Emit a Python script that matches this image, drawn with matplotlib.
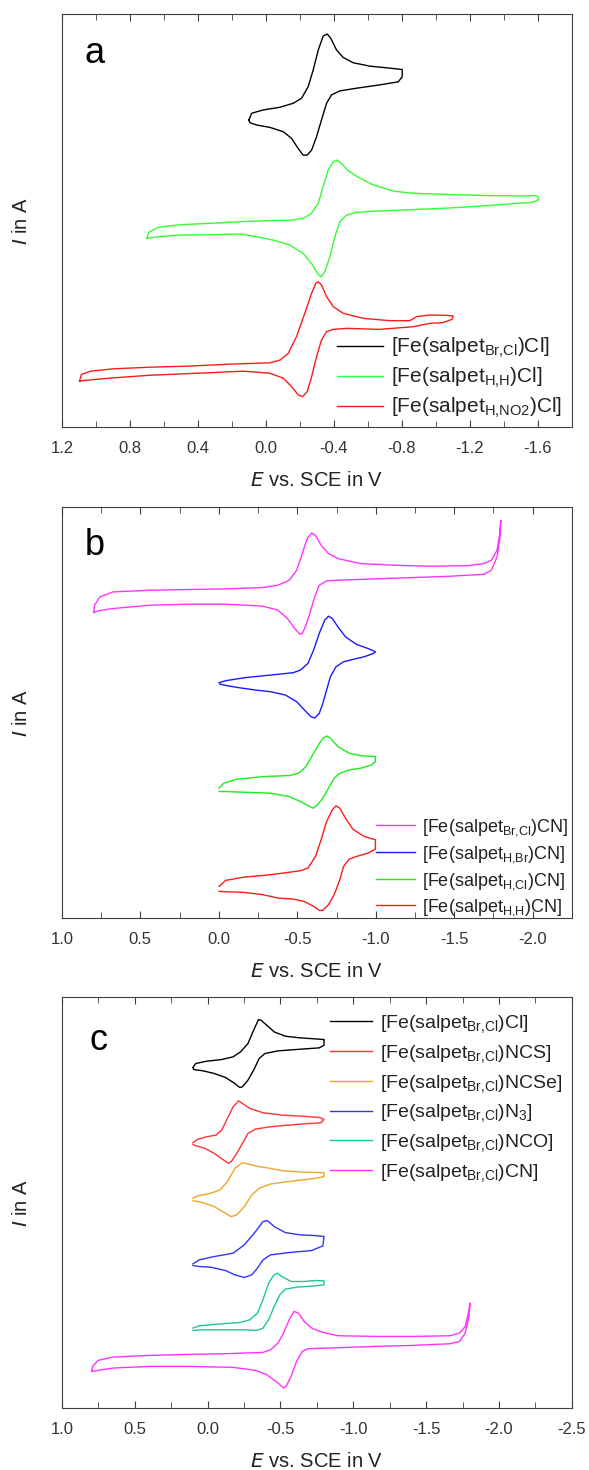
import matplotlib
matplotlib.use("Agg")
from matplotlib import pyplot as plt
from matplotlib.ticker import MultipleLocator

plt.rcParams["font.family"] = ["Liberation Sans", "DejaVu Sans"]
plt.rcParams["mathtext.default"] = "regular"
plt.rcParams["axes.unicode_minus"] = False

# ---- panel a: currents in arbitrary units, potentials in V vs. SCE ----
a_brcl_E = [0.100, 0.084, 0.016, -0.082, -0.161, -0.210, -0.249, -0.278, -0.308, -0.337, -0.361, -0.382,
            -0.416, -0.455, -0.514, -0.612, -0.710, -0.802,
            -0.802, -0.778, -0.670, -0.533, -0.435, -0.386, -0.357, -0.327, -0.298, -0.269, -0.243, -0.219,
            -0.190, -0.151, -0.102, -0.023, 0.055, 0.094, 0.100]
a_brcl_I = [9.18, 9.38, 9.48, 9.56, 9.68, 9.83, 10.18, 10.67, 11.27, 11.69, 11.75, 11.62,
            11.27, 11.05, 10.89, 10.79, 10.74, 10.69,
            10.47, 10.32, 10.23, 10.13, 10.05, 9.93, 9.68, 9.18, 8.68, 8.28, 8.13, 8.13,
            8.33, 8.63, 8.83, 8.96, 9.03, 9.10, 9.18]

a_hh_E = [0.700, 0.689, 0.634, 0.502, 0.326, 0.153, -0.004, -0.161, -0.219, -0.269, -0.308, -0.337, -0.366,
          -0.396, -0.419, -0.445, -0.484, -0.553, -0.631, -0.754, -0.864, -1.084, -1.304, -1.525, -1.591, -1.602,
          -1.602, -1.569, -1.304, -1.084, -0.864, -0.670, -0.533, -0.475, -0.435, -0.406, -0.376, -0.347,
          -0.323, -0.302, -0.269, -0.219, -0.141, -0.043, 0.075, 0.153, 0.326, 0.502, 0.634, 0.700]
a_hh_I = [5.65, 5.82, 5.97, 6.05, 6.09, 6.14, 6.17, 6.19, 6.24, 6.39, 6.69, 7.19, 7.68,
          7.93, 7.98, 7.88, 7.66, 7.44, 7.24, 7.05, 6.99, 6.95, 6.92, 6.91, 6.92, 6.87,
          6.79, 6.72, 6.62, 6.55, 6.50, 6.46, 6.42, 6.34, 6.14, 5.69, 5.09, 4.64,
          4.49, 4.60, 4.89, 5.19, 5.44, 5.59, 5.71, 5.77, 5.75, 5.74, 5.69, 5.64]

a_hno2_E = [1.096, 1.085, 1.030, 0.898, 0.678, 0.458, 0.212, -0.023, -0.082, -0.131, -0.180, -0.229, -0.269,
            -0.294, -0.308, -0.327, -0.357, -0.396, -0.455, -0.572, -0.729, -0.847, -0.886, -0.965, -1.062,
            -1.102,
            -1.095, -1.040, -0.965, -0.867, -0.670, -0.475, -0.396, -0.357, -0.327, -0.298, -0.269, -0.243,
            -0.216, -0.190, -0.151, -0.102, -0.023, 0.133, 0.348, 0.678, 0.898, 1.074, 1.096]
a_hno2_I = [1.37, 1.57, 1.67, 1.74, 1.79, 1.82, 1.88, 1.92, 2.00, 2.20, 2.70, 3.40, 4.00,
            4.30, 4.34, 4.25, 3.90, 3.60, 3.40, 3.25, 3.18, 3.18, 3.30, 3.35, 3.34,
            3.32,
            3.22, 3.12, 3.10, 3.00, 2.92, 2.95, 2.92, 2.85, 2.60, 2.10, 1.50, 1.06,
            0.91, 0.96, 1.21, 1.46, 1.61, 1.67, 1.62, 1.55, 1.47, 1.39, 1.37]

# ---- panel b ----
b_brcl_E = [0.797, 0.792, 0.757, 0.673, 0.434, 0.196, -0.043, -0.282, -0.377, -0.449, -0.496, -0.532, -0.563,
            -0.592, -0.616, -0.652, -0.699, -0.759, -0.902, -1.117, -1.356, -1.594, -1.690, -1.737, -1.773,
            -1.790, -1.797,
            -1.792, -1.773, -1.737, -1.690, -1.475, -1.236, -0.998, -0.759, -0.687, -0.640, -0.611, -0.580,
            -0.556, -0.532, -0.516, -0.484, -0.437, -0.377, -0.282, -0.043, 0.196, 0.434, 0.673, 0.768, 0.797]
b_brcl_I = [9.20, 9.40, 9.65, 9.80, 9.85, 9.87, 9.89, 9.93, 10.00, 10.15, 10.45, 10.95, 11.40,
            11.57, 11.50, 11.20, 10.95, 10.80, 10.65, 10.60, 10.57, 10.59, 10.65, 10.75, 11.05,
            11.55, 11.95,
            11.45, 10.85, 10.45, 10.33, 10.27, 10.23, 10.19, 10.15, 10.13, 10.00, 9.65, 9.15,
            8.80, 8.55, 8.53, 8.70, 9.00, 9.25, 9.37, 9.43, 9.43, 9.40, 9.30, 9.23, 9.18]

b_hbr_E = [-0.002, -0.043, -0.162, -0.329, -0.473, -0.520, -0.568, -0.604, -0.640, -0.675, -0.699, -0.723,
           -0.759, -0.807, -0.878, -0.950, -0.998,
           -0.986, -0.926, -0.854, -0.795, -0.747, -0.711, -0.687, -0.663, -0.640, -0.611, -0.587, -0.556,
           -0.496, -0.425, -0.329, -0.234, -0.115, -0.043, -0.007]
b_hbr_I = [7.07, 7.13, 7.22, 7.30, 7.37, 7.45, 7.65, 8.05, 8.55, 8.95, 9.07, 9.00,
           8.75, 8.45, 8.22, 8.10, 8.00,
           7.95, 7.85, 7.77, 7.70, 7.55, 7.25, 6.85, 6.45, 6.15, 6.01, 6.05, 6.20,
           6.50, 6.70, 6.80, 6.85, 6.93, 6.99, 7.03]

b_hcl_E = [-0.002, -0.031, -0.115, -0.282, -0.449, -0.508, -0.556, -0.592, -0.628, -0.663, -0.687, -0.711,
           -0.759, -0.831, -0.902, -0.998,
           -0.998, -0.974, -0.902, -0.831, -0.771, -0.735, -0.699, -0.663, -0.628, -0.604, -0.580, -0.520,
           -0.449, -0.329, -0.162, -0.043, -0.002]
b_hcl_I = [3.90, 4.05, 4.17, 4.25, 4.28, 4.35, 4.55, 4.85, 5.15, 5.40, 5.47, 5.40,
           5.15, 4.95, 4.88, 4.85,
           4.70, 4.60, 4.50, 4.45, 4.35, 4.20, 3.90, 3.60, 3.40, 3.30, 3.35, 3.50,
           3.65, 3.75, 3.78, 3.80, 3.80]

b_hh_E = [-0.002, -0.043, -0.162, -0.329, -0.520, -0.568, -0.616, -0.652, -0.687, -0.723, -0.747, -0.771,
          -0.807, -0.854, -0.926, -0.998,
          -0.998, -0.950, -0.878, -0.831, -0.795, -0.771, -0.735, -0.699, -0.663, -0.640, -0.604, -0.544,
          -0.473, -0.377, -0.282, -0.162, -0.043, -0.002]
b_hh_I = [0.95, 1.13, 1.23, 1.30, 1.42, 1.50, 1.85, 2.35, 2.90, 3.25, 3.37, 3.30,
          3.00, 2.67, 2.45, 2.35,
          2.07, 1.95, 1.85, 1.77, 1.55, 1.15, 0.70, 0.40, 0.23, 0.23, 0.35, 0.50,
          0.57, 0.60, 0.70, 0.77, 0.79, 0.80]

# ---- panel c ----
c_cl_E = [0.100, 0.082, 0.005, -0.097, -0.175, -0.226, -0.277, -0.316, -0.349, -0.367, -0.406, -0.457,
          -0.534, -0.637, -0.740, -0.799,
          -0.799, -0.766, -0.637, -0.483, -0.393, -0.354, -0.316, -0.277, -0.239, -0.221, -0.187, -0.123,
          -0.046, 0.031, 0.095, 0.100]
c_cl_I = [10.23, 10.35, 10.42, 10.47, 10.55, 10.70, 10.95, 11.35, 11.67, 11.65, 11.50, 11.30,
          11.17, 11.12, 11.09, 11.07,
          10.90, 10.82, 10.78, 10.73, 10.65, 10.50, 10.15, 9.85, 9.65, 9.63, 9.75, 9.93,
          10.05, 10.13, 10.17, 10.23]

c_ncs_E = [0.100, 0.070, 0.005, -0.059, -0.097, -0.136, -0.175, -0.213, -0.239, -0.290, -0.380, -0.509,
           -0.637, -0.766, -0.799,
           -0.778, -0.637, -0.432, -0.329, -0.277, -0.239, -0.200, -0.162, -0.144, -0.110, -0.046, 0.018,
           0.082, 0.100]
c_ncs_I = [7.97, 8.07, 8.15, 8.20, 8.35, 8.70, 9.05, 9.23, 9.15, 9.00, 8.87, 8.80,
           8.77, 8.73, 8.67,
           8.57, 8.53, 8.45, 8.38, 8.25, 7.95, 7.65, 7.40, 7.35, 7.45, 7.65, 7.80,
           7.88, 7.92]

c_ncse_E = [0.100, 0.070, -0.020, -0.085, -0.136, -0.187, -0.239, -0.277, -0.354, -0.432, -0.509, -0.637,
            -0.799,
            -0.799, -0.740, -0.586, -0.432, -0.354, -0.303, -0.252, -0.200, -0.162, -0.123, -0.046, 0.031,
            0.100]
c_ncse_I = [6.30, 6.37, 6.45, 6.55, 6.80, 7.20, 7.37, 7.33, 7.25, 7.20, 7.13, 7.09,
            7.07,
            6.95, 6.90, 6.82, 6.73, 6.60, 6.40, 6.05, 5.80, 5.75, 5.85, 6.05, 6.17,
            6.23]

c_n3_E = [0.100, 0.057, -0.046, -0.175, -0.252, -0.329, -0.380, -0.411, -0.457, -0.534, -0.637, -0.740,
          -0.799,
          -0.791, -0.714, -0.560, -0.432, -0.380, -0.342, -0.303, -0.252, -0.187, -0.123, -0.020, 0.057,
          0.100]
c_n3_I = [4.33, 4.45, 4.55, 4.65, 4.90, 5.30, 5.60, 5.63, 5.45, 5.27, 5.20, 5.18,
          5.15,
          4.87, 4.73, 4.67, 4.60, 4.45, 4.20, 4.00, 3.92, 4.00, 4.13, 4.23, 4.25,
          4.28]

c_nco_E = [0.100, 0.057, -0.072, -0.226, -0.290, -0.342, -0.380, -0.419, -0.452, -0.478, -0.509, -0.573,
           -0.663, -0.740, -0.799,
           -0.799, -0.740, -0.611, -0.534, -0.496, -0.457, -0.419, -0.380, -0.342, -0.252, -0.123, 0.031,
           0.100]
c_nco_I = [2.40, 2.47, 2.52, 2.57, 2.65, 2.85, 3.25, 3.75, 3.98, 4.05, 3.95, 3.80,
           3.80, 3.83, 3.82,
           3.70, 3.67, 3.63, 3.57, 3.40, 3.05, 2.65, 2.40, 2.33, 2.35, 2.35, 2.35,
           2.33]

c_cn_E = [0.794, 0.789, 0.751, 0.648, 0.391, 0.134, -0.123, -0.380, -0.432, -0.483, -0.521, -0.560, -0.593,
          -0.624, -0.663, -0.714, -0.791, -0.894, -1.151, -1.408, -1.665, -1.729, -1.768, -1.789, -1.801,
          -1.794, -1.768, -1.729, -1.665, -1.408, -1.151, -0.894, -0.689, -0.650, -0.611, -0.573, -0.539,
          -0.521, -0.483, -0.406, -0.329, -0.175, 0.134, 0.391, 0.648, 0.751, 0.789, 0.794]
c_cn_I = [1.10, 1.25, 1.43, 1.53, 1.58, 1.61, 1.63, 1.67, 1.75, 1.95, 2.25, 2.65, 2.90,
          2.85, 2.60, 2.40, 2.27, 2.17, 2.15, 2.15, 2.17, 2.25, 2.45, 2.85, 3.15,
          2.75, 2.25, 2.00, 1.93, 1.88, 1.85, 1.81, 1.78, 1.70, 1.40, 0.95, 0.65,
          0.60, 0.75, 1.00, 1.13, 1.22, 1.25, 1.25, 1.20, 1.13, 1.10, 1.10]

panel_labels = ["a", "b", "c"]

a_labels = [r"[Fe(salpet$_{Br{,}Cl}$)Cl]", r"[Fe(salpet$_{H{,}H}$)Cl]", r"[Fe(salpet$_{H{,}NO2}$)Cl]"]
b_labels = [r"[Fe(salpet$_{Br{,}Cl}$)CN]", r"[Fe(salpet$_{H{,}Br}$)CN]",
            r"[Fe(salpet$_{H{,}Cl}$)CN]", r"[Fe(salpet$_{H{,}H}$)CN]"]
c_labels = [r"[Fe(salpet$_{Br{,}Cl}$)Cl]", r"[Fe(salpet$_{Br{,}Cl}$)NCS]", r"[Fe(salpet$_{Br{,}Cl}$)NCSe]",
            r"[Fe(salpet$_{Br{,}Cl}$)N$_3$]", r"[Fe(salpet$_{Br{,}Cl}$)NCO]", r"[Fe(salpet$_{Br{,}Cl}$)CN]"]

FRAME = "#404040"


def style_axes(ax, xlim, major, minor):
    ax.set_xlim(*xlim)
    ax.set_ylim(0, 12.35)
    ax.set_yticks([])
    ax.xaxis.set_major_locator(MultipleLocator(major))
    ax.xaxis.set_minor_locator(MultipleLocator(minor))
    ax.tick_params(axis="x", which="both", direction="in", top=True, colors=FRAME,
                   labelsize=12, labelcolor="#333333", pad=10)
    ax.tick_params(axis="x", which="major", length=5)
    ax.tick_params(axis="x", which="minor", length=4)
    for spine in ax.spines.values():
        spine.set_color(FRAME)
    ax.set_xlabel(r"$\mathit{E}$ vs. SCE in V", fontsize=14.5, color="#222222", labelpad=11)
    ax.set_ylabel(r"$\mathit{I}$ in A", fontsize=14.5, color="#222222", labelpad=22)


def draw_panel(ax, curves, labels, colors, legend_fs, legend_anchor, spacing):
    for (E, I), label, color in zip(curves, labels, colors):
        ax.plot(E, I, color=color, lw=1.0, label=label)
    ax.legend(loc="upper left", bbox_to_anchor=legend_anchor, frameon=False, fontsize=legend_fs,
              handlelength=2.2, handletextpad=0.4, labelspacing=spacing, borderpad=0, borderaxespad=0,
              labelcolor="#222222")


fig = plt.figure(figsize=(5.89, 14.70), dpi=100)
ax_a = fig.add_axes([0.105, 0.7095, 0.866, 0.2810])
ax_b = fig.add_axes([0.105, 0.3755, 0.866, 0.2796])
ax_c = fig.add_axes([0.105, 0.0422, 0.866, 0.2796])

style_axes(ax_a, (1.2, -1.8), 0.4, 0.2)
draw_panel(ax_a, [(a_brcl_E, a_brcl_I), (a_hh_E, a_hh_I), (a_hno2_E, a_hno2_I)], a_labels,
           ["black", "#33ff33", "#ff1a1a"], 15, (0.54, 0.22), 0.28)

style_axes(ax_b, (1.0, -2.25), 0.5, 0.25)
draw_panel(ax_b, [(b_brcl_E, b_brcl_I), (b_hbr_E, b_hbr_I), (b_hcl_E, b_hcl_I), (b_hh_E, b_hh_I)], b_labels,
           ["#ff33ff", "#1a1aff", "#1aee1a", "#ff1a1a"], 13, (0.615, 0.245), 0.32)

style_axes(ax_c, (1.0, -2.5), 0.5, 0.25)
draw_panel(ax_c, [(c_cl_E, c_cl_I), (c_ncs_E, c_ncs_I), (c_ncse_E, c_ncse_I), (c_n3_E, c_n3_I),
                  (c_nco_E, c_nco_I), (c_cn_E, c_cn_I)], c_labels,
           ["black", "#ff3333", "#eea62a", "#3333ff", "#1ec88a", "#ff33ff"], 14, (0.525, 0.96), 0.4)

for ax, letter, pos in zip([ax_a, ax_b, ax_c], panel_labels, [(0.064, 0.905), (0.064, 0.907), (0.072, 0.895)]):
    ax.text(pos[0], pos[1], letter, transform=ax.transAxes, fontsize=26, ha="center", va="center")

fig.savefig("out.png", dpi=100)
